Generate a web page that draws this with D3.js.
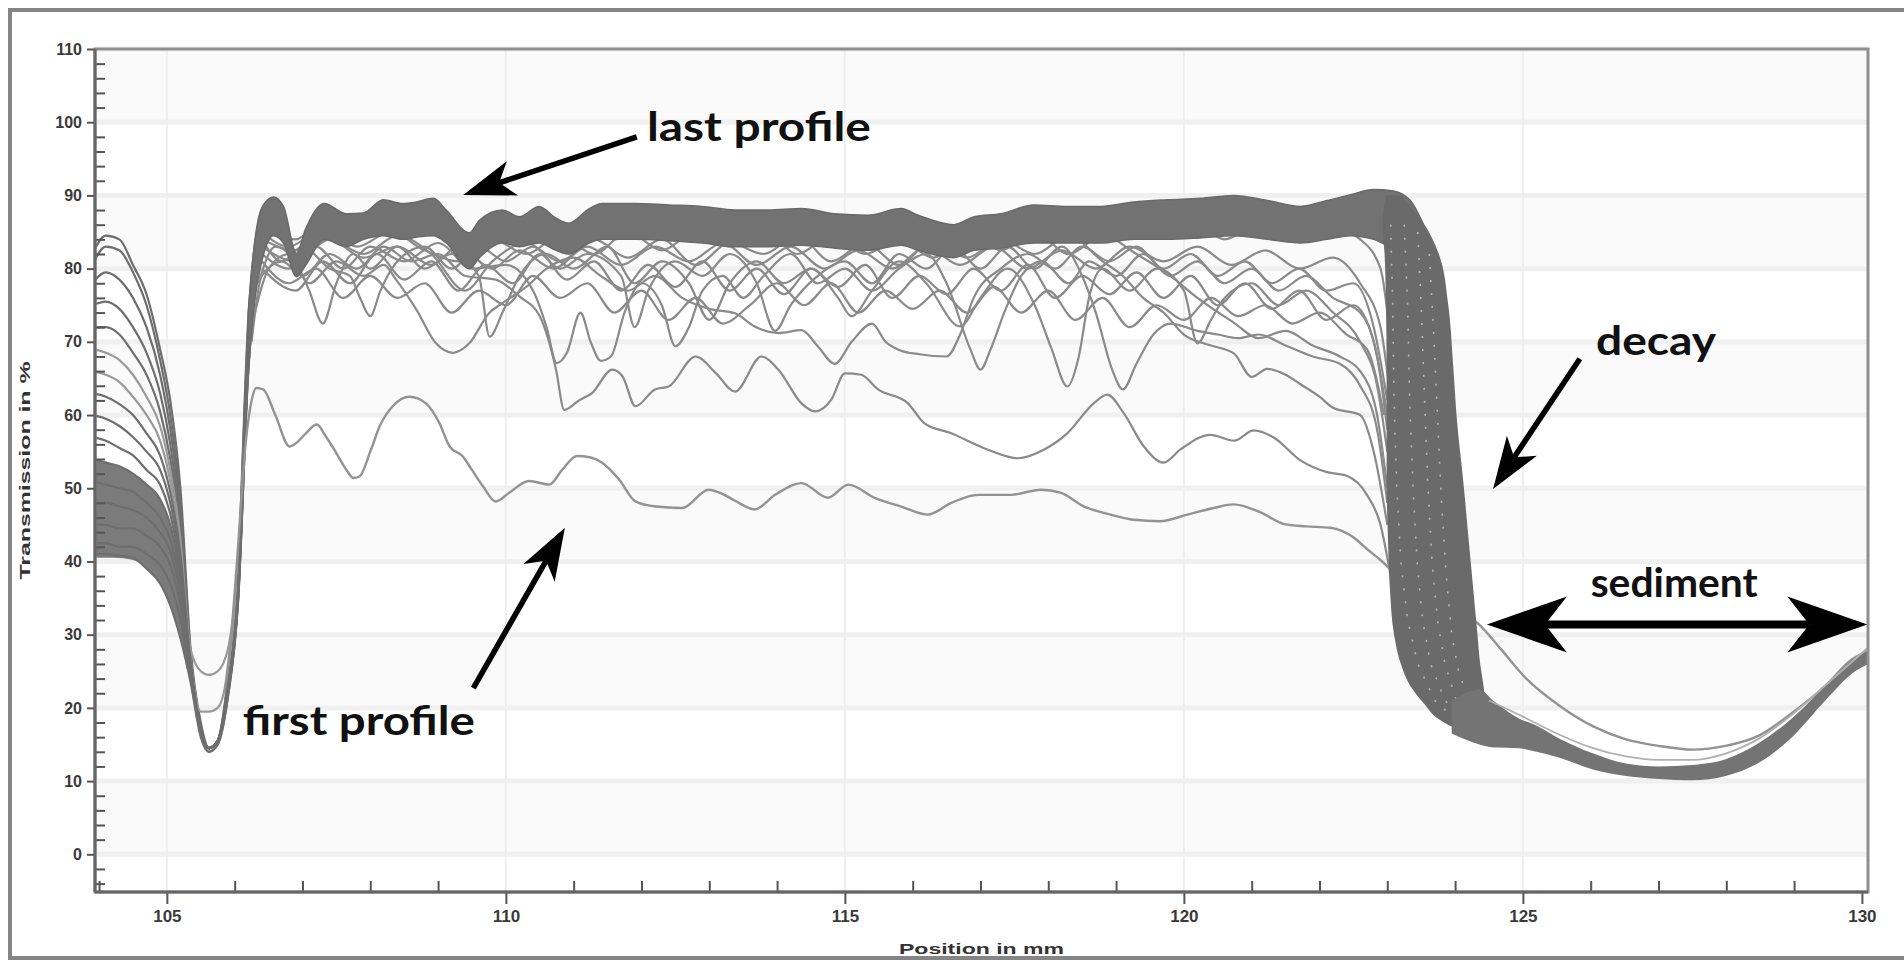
<!DOCTYPE html>
<html>
<head>
<meta charset="utf-8">
<script src="https://cdn.jsdelivr.net/npm/d3@7"></script>
<style>
  body { margin: 0; background: #fff; }
  .tick text { font-family: "Liberation Sans", Arial, sans-serif; font-weight: bold; font-size: 16px; fill: #3a3a3a; }
  .tick line { stroke: #555; stroke-width: 2; }
</style>
</head>
<body>
<div id="chart"></div>
<script>
// ---------------- data ----------------
const yTicks = [0, 10, 20, 30, 40, 50, 60, 70, 80, 90, 100, 110];
const xTicks = [105, 110, 115, 120, 125, 130];

// left part of the cell: every profile falls into the trough at ~105.6 mm and rises again
const leftX = [103.9, 104.1, 104.3, 104.5, 104.7, 104.9, 105.05, 105.2, 105.35, 105.5, 105.62, 105.75, 105.9, 106.05, 106.2, 106.35, 106.5];
const leftProfiles = [
  [82, 84.5, 84, 80.5, 76.5, 69, 62, 50, 28, 18, 14.5, 15.5, 24, 39, 73, 86, 89],
  [80.5, 83, 82.5, 79.5, 75, 67.5, 60, 48, 27.5, 17.5, 14.5, 15.5, 23.5, 38, 72, 85.5, 88.5],
  [78, 79.5, 78.5, 76, 72, 65.5, 58, 46.5, 27, 17.5, 14.5, 15.5, 23, 37.5, 71, 85, 88],
  [75, 75.5, 74.5, 72, 68.5, 63, 56, 45, 27, 17.5, 14.5, 15.5, 23, 37, 70, 84, 87],
  [72, 72, 71, 68.5, 65.5, 60.5, 54, 44, 26.5, 17, 14.5, 15.5, 22.5, 36.5, 70, 83.5, 86.5],
  [69, 68.5, 67.5, 65.5, 62.5, 58.5, 52.5, 43, 26.5, 19.5, 19.5, 20, 25, 38, 68, 82, 85],
  [66, 65.5, 64.5, 62.5, 60, 56.5, 51, 42, 28, 25, 24.5, 25, 28, 40, 66, 80, 84],
  [63, 62.5, 61.5, 60, 57.5, 54.5, 49.5, 41, 26, 17, 14.5, 15.5, 22.5, 36, 69, 83, 86],
  [60, 59.5, 58.5, 57, 55, 52.5, 48, 40, 26, 17, 14.5, 15.5, 22.5, 36, 69, 82.5, 86],
  [57, 56.5, 55.5, 54.5, 52.5, 50.5, 46.5, 39, 25.5, 17, 14.5, 15.5, 22.5, 36, 68.5, 82, 85.5],
  [54, 53.5, 53, 52, 50.5, 48.5, 45, 38, 25.5, 16.5, 14.5, 15.5, 22, 35.5, 68, 82, 85],
  [51, 50.5, 50, 49.5, 48, 46, 43, 37, 25, 16.5, 14.5, 15.5, 22, 35.5, 68, 81.5, 85],
  [48, 48, 47.5, 47, 46, 44, 41.5, 35.5, 25, 16.5, 14.5, 15.5, 22, 35, 67, 81, 84.5],
  [45, 45, 44.5, 44.5, 43.5, 42, 39.5, 34, 24.5, 16.5, 14.5, 15.5, 22, 35, 67, 81, 84.5],
  [42.5, 42.5, 42, 42, 41, 39.5, 37, 32, 24, 16.5, 14, 15, 21.5, 34.5, 66, 80.5, 84],
  [41, 41, 40.8, 40.5, 39, 37, 34, 29.5, 23.5, 16, 14, 15, 21.5, 34.5, 66, 80, 84]
];
// dense lower bundle of the left profiles
const leftBundleX = [103.9, 104.2, 104.5, 104.7, 104.9, 105.05, 105.2, 105.3];
const leftBundleTop = [54, 53.2, 52, 50.5, 48.5, 45, 38, 30];
const leftBundleBottom = [40.5, 40.5, 40.2, 39, 37, 34, 29.5, 25];

// dense band of the late profiles on the plateau
const bandX = [106.2, 106.3, 106.4, 106.57, 106.72, 106.91, 107.05, 107.32, 107.65, 107.9, 108.19, 108.48, 108.68, 108.93, 109.12, 109.46, 109.61, 109.95, 110.2, 110.49, 110.74, 110.93, 111.23, 111.42, 111.91, 112.4, 112.89, 113.38, 113.87, 114.36, 114.85, 115.34, 115.83, 116.08, 116.61, 116.91, 117.3, 117.79, 118.28, 118.77, 119.26, 119.75, 120.24, 120.73, 121.23, 121.72, 122.11, 122.46, 122.8, 123.09, 123.34, 123.53];
const bandTop = [74, 84, 88.3, 89.8, 88.5, 82.1, 85.5, 88.9, 87.5, 87.6, 89.4, 88.9, 89.1, 89.6, 88, 84.9, 86.6, 88, 87.1, 88.5, 86.9, 86.2, 88.2, 88.9, 88.9, 88.7, 88.5, 88, 88, 88.2, 87.5, 87.3, 88.2, 87.3, 86, 87.1, 87.5, 88.7, 88.5, 88.5, 89.1, 89.4, 89.6, 90, 89.3, 88.5, 89.3, 90.1, 90.8, 90.6, 89.3, 86.1];
const bandBottom = [66, 76, 81, 84.5, 83.5, 78.9, 80.5, 84, 83, 84, 84.5, 84, 84.3, 84.5, 83.5, 80, 81.5, 83.5, 83, 83.5, 82.5, 82, 83.5, 84, 84, 83.8, 83.5, 83, 83, 83.2, 82.8, 82.5, 83.2, 82.5, 81.5, 82.5, 82.8, 83.5, 83.5, 83.5, 84, 84, 84.2, 84.5, 84, 83.5, 84, 84.5, 84, 83, 84, 84];

// decay front: left and right edge of the falling bundle at each transmission level
const decayLevels = [90, 86, 82, 75, 67, 59, 51, 43, 36, 30, 26, 23, 20.5, 18.5, 17, 15.8];
const decayLeft = [122.98, 122.93, 122.96, 122.98, 122.99, 122.99, 122.99, 123.01, 123.04, 123.1, 123.2, 123.34, 123.55, 123.75, 124.05, 124.4];
const decayRight = [123.2, 123.55, 123.76, 123.9, 123.97, 124.03, 124.12, 124.2, 124.27, 124.33, 124.37, 124.42, 124.45, 124.48, 124.5, 124.52];
const decayStreaks = [
  [[123.05, 86], [123.08, 75], [123.1, 62], [123.14, 50], [123.2, 40], [123.3, 32], [123.45, 26], [123.7, 21], [124.0, 18.5]],
  [[123.25, 86], [123.3, 75], [123.33, 62], [123.38, 50], [123.44, 40], [123.52, 32], [123.64, 26], [123.85, 21], [124.15, 18.5]],
  [[123.45, 85], [123.5, 75], [123.55, 62], [123.6, 50], [123.66, 40], [123.74, 32], [123.85, 26], [124.02, 21], [124.28, 18.5]],
  [[123.62, 82], [123.68, 72], [123.74, 60], [123.8, 48], [123.87, 38], [123.95, 30], [124.05, 25], [124.2, 21]]
];

// sediment at the bottom of the cell
const sedX = [123.95, 124.36, 124.56, 124.95, 125.15, 125.54, 126.03, 126.52, 127.01, 127.5, 127.99, 128.48, 128.97, 129.46, 129.9, 130.1];
const sedTop = [21, 22.5, 21, 18.5, 17.8, 15.8, 13.8, 12.4, 12, 12.2, 13, 15.2, 18.6, 23, 26.8, 27.8];
const sedBottom = [16.5, 15, 14.6, 14.5, 14.1, 13.2, 11.6, 10.7, 10.3, 10.1, 10.7, 12.5, 16, 21, 25, 26];
const sedLine = [[124.5, 21], [125.0, 18.8], [125.5, 16.5], [126.0, 14.6], [126.5, 13.4], [127.0, 12.9], [127.5, 12.9], [128.0, 13.8], [128.5, 15.9], [129.0, 19.3], [129.5, 23.4], [130.1, 28.3]];

// single profiles that stay below the dense band
const firstProfile = [[105.85, 22], [105.95, 30], [106.05, 42], [106.15, 55], [106.25, 62], [106.32, 63.7], [106.42, 63.5], [106.6, 60], [106.81, 55.7], [106.91, 56.2], [107.05, 57.5], [107.21, 58.7], [107.35, 57], [107.5, 54.8], [107.65, 52.5], [107.75, 51.4], [107.84, 51.6], [108.0, 55], [108.14, 58.5], [108.33, 61.2], [108.58, 62.5], [108.82, 61.6], [109.02, 58.9], [109.17, 55.7], [109.36, 54.4], [109.5, 52.5], [109.66, 50.3], [109.85, 48.2], [110.05, 49.4], [110.34, 51], [110.64, 50.5], [110.83, 52.5], [111.05, 54.4], [111.25, 54.2], [111.42, 53.5], [111.67, 51.2], [111.91, 48.2], [112.21, 47.5], [112.6, 47.3], [112.99, 49.8], [113.2, 49.2], [113.38, 48.3], [113.67, 47.1], [113.97, 49.1], [114.36, 50.7], [114.75, 48.7], [115.05, 50.5], [115.44, 48.7], [115.83, 47.5], [116.22, 46.4], [116.57, 48], [116.96, 49.1], [117.45, 49.1], [117.89, 49.8], [118.18, 49.4], [118.53, 47.5], [118.92, 46.4], [119.26, 45.7], [119.65, 45.5], [120.05, 46.4], [120.44, 47.3], [120.73, 47.8], [121.13, 46.7], [121.48, 45.1], [121.8, 44.8], [122.16, 44.6], [122.5, 43.3], [122.7, 41.7], [122.9, 40.2], [123.1, 38.5], [123.4, 37], [123.7, 35.5], [124.0, 33.5], [124.34, 31.5], [124.66, 28.2], [125.05, 24], [125.54, 20.3], [126.03, 17.5], [126.52, 15.7], [127.01, 14.8], [127.5, 14.3], [127.99, 14.8], [128.48, 16.2], [128.97, 19.3], [129.46, 23], [129.85, 26.6], [130.1, 27.8]];
const profileB = [[106.25, 70], [106.4, 79], [106.7, 81], [107.0, 79], [107.4, 82], [107.8, 80], [108.2, 83], [108.6, 81], [109.0, 82], [109.4, 79], [109.85, 78.5], [110.2, 76.2], [110.5, 73.5], [110.74, 66.2], [110.86, 60.7], [111.08, 62], [111.27, 63], [111.57, 66.2], [111.72, 65.3], [111.91, 61.2], [112.2, 63.5], [112.4, 63.9], [112.8, 68], [113.1, 65.7], [113.38, 63.2], [113.77, 68], [114.02, 66.2], [114.36, 61.6], [114.56, 60.5], [114.8, 62.1], [115.0, 65.7], [115.24, 65.5], [115.49, 63.5], [115.93, 61.6], [116.17, 58.9], [116.57, 57.5], [117.1, 55.3], [117.55, 54.1], [117.94, 55.3], [118.28, 57.5], [118.67, 61.6], [118.87, 62.8], [119.11, 60.3], [119.41, 55.7], [119.7, 53.5], [119.95, 55.3], [120.39, 57.3], [120.74, 56.5], [121.03, 57.9], [121.33, 56.9], [121.72, 53.8], [122.11, 52.2], [122.4, 51.7], [122.7, 49.1], [122.9, 45], [123.05, 38]];
const profileC = [[106.3, 74], [106.5, 80], [106.8, 82], [107.1, 78], [107.5, 81], [107.9, 79], [108.2, 80.5], [108.38, 78.5], [108.68, 74.4], [108.97, 69.8], [109.22, 68.5], [109.46, 69.8], [109.75, 73.9], [109.95, 75.3], [110.3, 77.5], [110.6, 80], [111.0, 81.5], [111.4, 79], [111.8, 77], [112.2, 79], [112.6, 76], [113.0, 74.5], [113.38, 73.9], [113.67, 72.1], [114.02, 71.2], [114.36, 71.6], [114.6, 69.4], [114.85, 67], [115.1, 70], [115.4, 72.5], [115.6, 70], [115.8, 68.9], [116.1, 68.3], [116.5, 68], [116.7, 71], [116.9, 76], [117.3, 80], [117.7, 82], [118.1, 80], [118.5, 83], [118.9, 81], [119.3, 83], [119.7, 80], [120.1, 82], [120.5, 79], [120.9, 81], [121.3, 78], [121.7, 80], [122.1, 77], [122.5, 78], [122.8, 72], [123.0, 62]];
const profileD = [[106.4, 82], [106.8, 80], [107.2, 83], [107.6, 80], [108.0, 83], [108.5, 81], [109.0, 83.5], [109.5, 80], [110.0, 80.5], [110.4, 77], [110.6, 72], [110.75, 67.1], [110.9, 68.5], [111.1, 74], [111.25, 70], [111.4, 67.4], [111.55, 68], [111.75, 74], [112.0, 78], [112.3, 75], [112.5, 69.4], [112.7, 72], [112.9, 77], [113.2, 79], [113.5, 76], [113.8, 79], [114.2, 82], [114.6, 78], [115.0, 80], [115.4, 77], [115.8, 80], [116.2, 82], [116.5, 78], [116.85, 69], [117.0, 66.2], [117.15, 69], [117.35, 74], [117.6, 79], [117.9, 81], [118.3, 78], [118.6, 81], [119.0, 79], [119.4, 82], [119.8, 79], [120.2, 81], [120.6, 78], [121.0, 80], [121.4, 77], [121.8, 79], [122.2, 76], [122.6, 74], [122.85, 68], [123.0, 58]];
const profileE = [[106.35, 78], [106.6, 83], [106.95, 80], [107.1, 77], [107.3, 72.5], [107.5, 78], [107.75, 82], [108.0, 80], [108.4, 83], [108.8, 80], [109.2, 82], [109.6, 79], [109.76, 70.7], [109.95, 74], [110.2, 79], [110.6, 82], [111.0, 80], [111.5, 83], [111.9, 78], [112.3, 81], [112.7, 78], [113.0, 73], [113.3, 78], [113.7, 81], [114.1, 78], [114.5, 80], [114.9, 76], [115.1, 73.5], [115.4, 77], [115.8, 81], [116.2, 78], [116.7, 72.1], [117.0, 76], [117.4, 80], [117.8, 75], [118.05, 69], [118.28, 63.9], [118.45, 68], [118.6, 76], [118.8, 80], [119.2, 77], [119.6, 80], [120.0, 77], [120.2, 69.8], [120.4, 73], [120.6, 76], [121.0, 78], [121.4, 75], [121.8, 77], [122.2, 74], [122.6, 70], [122.85, 64], [123.0, 55]];
const profileF = [[106.4, 84], [106.7, 81], [107.0, 83], [107.4, 80], [107.7, 79], [107.85, 76], [108.0, 73.5], [108.15, 77], [108.4, 81], [108.8, 83], [109.2, 80], [109.6, 83], [110.0, 81], [110.4, 83], [110.8, 80], [111.2, 82], [111.7, 79], [111.9, 72], [112.1, 77], [112.5, 81], [112.9, 79], [113.3, 82], [113.7, 78], [113.97, 71.5], [114.2, 75], [114.6, 79], [115.0, 81], [115.4, 78], [115.8, 82], [116.2, 80], [116.6, 83], [117.0, 80], [117.4, 83], [117.8, 80], [118.2, 83], [118.5, 79], [118.7, 74], [118.95, 66], [119.1, 63.5], [119.3, 67], [119.55, 71], [119.8, 72.5], [120.2, 71.5], [120.5, 71], [120.8, 70.5], [121.1, 71], [121.5, 69.5], [121.9, 68], [122.3, 67], [122.6, 64], [122.85, 58], [123.0, 48]];
const profileG = [[106.4, 83], [106.9, 81], [107.4, 84], [107.9, 82], [108.4, 84.5], [108.9, 82], [109.4, 77], [109.8, 81], [110.3, 83.5], [110.8, 81], [111.3, 84], [111.8, 81.5], [112.3, 84], [112.8, 80.5], [113.3, 83.5], [113.8, 82], [114.3, 84.5], [114.8, 81], [115.3, 83.5], [115.8, 80.5], [116.3, 84], [116.8, 81.5], [117.3, 84], [117.8, 82], [118.3, 84.5], [118.8, 81], [119.1, 79], [119.4, 76], [119.7, 74], [120.0, 71], [120.4, 69.5], [120.74, 68.4], [121.0, 65.2], [121.23, 66.3], [121.5, 65.5], [121.72, 64.2], [122.0, 62.5], [122.2, 61], [122.6, 60], [122.8, 55], [123.0, 45]];
const profileH = [[106.4, 85], [106.8, 83], [107.3, 85.5], [107.8, 83], [108.3, 85], [108.8, 82.5], [109.3, 81], [109.8, 84], [110.3, 82], [110.8, 84.5], [111.3, 82], [111.8, 85], [112.3, 82.5], [112.8, 85], [113.3, 83], [113.8, 85.5], [114.3, 82], [114.8, 84.5], [115.3, 82], [115.8, 84], [116.3, 81.5], [116.8, 85], [117.3, 82.5], [117.8, 85], [118.3, 82], [118.8, 84.5], [119.3, 82], [119.8, 79], [120.2, 76], [120.74, 72.6], [121.1, 70.5], [121.5, 71.5], [121.9, 69.5], [122.3, 68], [122.6, 66], [122.85, 60], [123.0, 50]];
const profileI = [[106.4, 80], [106.9, 77], [107.3, 81], [107.7, 78], [108.1, 82], [108.5, 78.5], [108.9, 81], [109.3, 77], [109.7, 80.5], [110.1, 78], [110.5, 82], [110.9, 78.5], [111.3, 81], [111.7, 77], [112.1, 80.5], [112.5, 77.5], [112.9, 81], [113.3, 77], [113.7, 80], [114.1, 76.5], [114.5, 80], [114.9, 77.5], [115.3, 80.5], [115.7, 76], [116.1, 79], [116.5, 76.5], [116.9, 80], [117.3, 77], [117.7, 80.5], [118.1, 76], [118.5, 79], [118.9, 76.5], [119.3, 79.5], [119.7, 76], [120.1, 79], [120.5, 75], [120.9, 78], [121.3, 74.5], [121.7, 77], [122.1, 73], [122.5, 75], [122.8, 70], [123.0, 60]];
const profileJ = [[106.4, 86], [106.9, 84], [107.3, 86.5], [107.8, 84], [108.2, 86], [108.7, 84.5], [109.2, 86], [109.6, 83], [110.1, 86], [110.6, 84], [111.1, 86.5], [111.6, 84], [112.1, 85.5], [112.6, 84], [113.1, 86], [113.6, 84.5], [114.1, 86], [114.6, 83.5], [115.1, 85.5], [115.6, 84], [116.1, 86], [116.6, 83.5], [117.1, 85.5], [117.6, 84], [118.1, 86.5], [118.6, 84], [119.1, 86], [119.6, 84.5], [120.1, 86.5], [120.6, 84], [121.1, 86], [121.6, 84], [122.1, 86], [122.6, 84], [122.9, 80], [123.05, 70]];
const profileK = [[106.4, 81], [106.8, 78], [107.2, 80], [107.6, 76], [108.0, 79], [108.4, 76], [108.8, 78], [109.2, 74], [109.6, 77], [110.0, 75], [110.4, 79], [110.8, 76], [111.2, 78], [111.6, 74], [112.0, 77], [112.4, 73], [112.8, 76], [113.2, 72.5], [113.6, 75], [114.0, 78], [114.4, 75], [114.8, 78], [115.2, 74], [115.6, 77], [116.0, 74.5], [116.4, 77], [116.8, 74], [117.2, 77.5], [117.6, 74], [118.0, 77], [118.4, 73], [118.8, 76], [119.2, 72], [119.6, 75], [120.0, 73], [120.4, 76], [120.8, 73.5], [121.2, 75], [121.6, 72.5], [122.0, 74], [122.4, 71], [122.7, 69], [122.95, 60]];
const profileL = [[106.4, 84], [106.9, 82.5], [107.4, 84], [107.9, 81.5], [108.4, 83], [108.9, 80.5], [109.3, 83], [109.8, 80], [110.2, 82.5], [110.7, 80], [111.2, 83], [111.7, 80.5], [112.2, 83], [112.7, 81], [113.2, 83.5], [113.7, 80.5], [114.2, 83], [114.7, 80], [115.2, 82.5], [115.7, 80], [116.2, 83], [116.7, 80.5], [117.2, 83], [117.7, 80], [118.2, 82.5], [118.7, 80], [119.2, 83], [119.7, 81], [120.2, 83], [120.7, 80.5], [121.2, 82.5], [121.7, 80], [122.2, 81.5], [122.6, 78], [122.9, 72], [123.05, 62]];
const plateauProfiles = [profileJ, profileL, profileH, profileI, profileK, profileG, profileF, profileE, profileD, profileC, profileB];

// annotation texts and arrows, placed in data units
const labels = [
  {text: "last profile", x: 112.08, y: 97.4, width: 224},
  {text: "first profile", x: 106.12, y: 16.3, width: 232},
  {text: "decay", x: 126.08, y: 68.2, width: 120},
  {text: "sediment", x: 126.0, y: 35.2, width: 167}
];
const arrows = [
  {from: [111.93, 98.0], to: [109.37, 90.07], double: false},
  {from: [109.52, 22.7], to: [110.87, 44.6], double: false},
  {from: [125.84, 67.7], to: [124.56, 49.9], double: false},
  {from: [124.47, 31.4], to: [130.08, 31.4], double: true}
];

// ---------------- drawing ----------------
const width = 1904, height = 963;
const plot = {left: 95, right: 1868, top: 49, bottom: 892};

const svg = d3.select("#chart")
  .append("svg")
  .attr("width", width)
  .attr("height", height)
  .style("font-family", "'Liberation Sans', Arial, sans-serif");

const xScale = d3.scaleLinear().domain([103.94, 130.09]).range([plot.left, plot.right]);
const yScale = d3.scaleLinear().domain([-5.15, 110]).range([plot.bottom, plot.top]);

//Grey frame round the whole picture
svg.append("rect")
  .attr("x", 10).attr("y", 10)
  .attr("width", width + 20).attr("height", height - 15)
  .attr("fill", "none")
  .attr("stroke", "#858585")
  .attr("stroke-width", 4);

//Alternating bands and grid lines behind the profiles
svg.append("g")
  .selectAll("rect")
  .data(yTicks.filter(v => v % 20 === 0 && v < 110))
  .join("rect")
  .attr("x", plot.left)
  .attr("width", plot.right - plot.left)
  .attr("y", d => yScale(d + 10))
  .attr("height", d => yScale(d) - yScale(d + 10))
  .attr("fill", "#fafafa");

svg.append("g")
  .selectAll("line")
  .data(yTicks)
  .join("line")
  .attr("x1", plot.left).attr("x2", plot.right)
  .attr("y1", d => yScale(d)).attr("y2", d => yScale(d))
  .attr("stroke", "#f0f0f0")
  .attr("stroke-width", 5);

svg.append("g")
  .selectAll("line")
  .data(xTicks.filter(v => v < 130))
  .join("line")
  .attr("x1", d => xScale(d)).attr("x2", d => xScale(d))
  .attr("y1", plot.top).attr("y2", plot.bottom)
  .attr("stroke", "#eeeeee")
  .attr("stroke-width", 2);

//Everything drawn from the data is clipped to the plot area
svg.append("clipPath").attr("id", "plotClip")
  .append("rect")
  .attr("x", plot.left).attr("y", plot.top)
  .attr("width", plot.right - plot.left).attr("height", plot.bottom - plot.top);

const g = svg.append("g").attr("clip-path", "url(#plotClip)");

const line = d3.line().x(d => xScale(d[0])).y(d => yScale(d[1])).curve(d3.curveMonotoneX);

//Left part: bundle and the single falling profiles
g.append("path")
  .datum(leftBundleX)
  .attr("d", d3.area()
    .x(d => xScale(d))
    .y0((d, i) => yScale(leftBundleBottom[i]))
    .y1((d, i) => yScale(leftBundleTop[i]))
    .curve(d3.curveMonotoneX))
  .attr("fill", "#7b7b7b");

g.append("g")
  .selectAll("path")
  .data(leftProfiles)
  .join("path")
  .attr("d", p => line(p.map((v, i) => [leftX[i], v])))
  .attr("fill", "none")
  .attr("stroke", (p, i) => (i === 5 || i === 6) ? "#9a9a9a" : "#6e6e6e")
  .attr("stroke-width", 2.2);

//Plateau profiles below the dense band
g.append("g")
  .selectAll("path")
  .data(plateauProfiles)
  .join("path")
  .attr("d", line)
  .attr("fill", "none")
  .attr("stroke", "#8a8a8a")
  .attr("stroke-width", 2.2)
  .attr("stroke-linejoin", "round");

g.append("path")
  .datum(firstProfile)
  .attr("d", line)
  .attr("fill", "none")
  .attr("stroke", "#939393")
  .attr("stroke-width", 2.4)
  .attr("stroke-linejoin", "round");

//Dense band of the later profiles
g.append("path")
  .datum(bandX)
  .attr("d", d3.area()
    .x(d => xScale(d))
    .y0((d, i) => yScale(bandBottom[i]))
    .y1((d, i) => yScale(bandTop[i]))
    .curve(d3.curveMonotoneX))
  .attr("fill", "#727272")
  .attr("stroke", "#6a6a6a")
  .attr("stroke-width", 1.5)
  .attr("stroke-linejoin", "round");

//Decay front
g.append("path")
  .datum(decayLevels)
  .attr("d", d3.area()
    .y(d => yScale(d))
    .x0((d, i) => xScale(decayLeft[i]))
    .x1((d, i) => xScale(decayRight[i]))
    .curve(d3.curveMonotoneY))
  .attr("fill", "#6a6a6a");

g.append("g")
  .selectAll("path")
  .data(decayStreaks)
  .join("path")
  .attr("d", d3.line().x(d => xScale(d[0])).y(d => yScale(d[1])))
  .attr("fill", "none")
  .attr("stroke", "#b8b8b8")
  .attr("stroke-width", 1.6)
  .attr("stroke-dasharray", "2,11");

//Sediment
g.append("path")
  .datum(sedX)
  .attr("d", d3.area()
    .x(d => xScale(d))
    .y0((d, i) => yScale(sedBottom[i]))
    .y1((d, i) => yScale(sedTop[i]))
    .curve(d3.curveMonotoneX))
  .attr("fill", "#747474");

g.append("path")
  .datum(sedLine)
  .attr("d", line)
  .attr("fill", "none")
  .attr("stroke", "#b0b0b0")
  .attr("stroke-width", 1.8);

//Plot border and axes
svg.append("rect")
  .attr("x", plot.left).attr("y", plot.top)
  .attr("width", plot.right - plot.left).attr("height", plot.bottom - plot.top)
  .attr("fill", "none")
  .attr("stroke", "#8f8f8f")
  .attr("stroke-width", 3);

const yAxis = svg.append("g")
  .attr("transform", `translate(${plot.left},0)`)
  .call(d3.axisLeft(yScale).tickValues(yTicks).tickSize(8).tickPadding(5));
yAxis.select(".domain").remove();

svg.append("g")
  .attr("transform", `translate(${plot.left},0)`)
  .call(d3.axisRight(yScale)
    .tickValues(d3.range(-4, 110, 2).filter(v => v % 10 !== 0))
    .tickSize(10).tickFormat(""))
  .select(".domain").remove();

const xAxis = svg.append("g")
  .attr("transform", `translate(0,${plot.bottom})`)
  .call(d3.axisBottom(xScale).tickValues(xTicks).tickSize(12).tickPadding(6));
xAxis.select(".domain").remove();
xAxis.selectAll("text").style("font-size", "17px");

svg.append("g")
  .attr("transform", `translate(0,${plot.bottom})`)
  .call(d3.axisTop(xScale)
    .tickValues(d3.range(104, 131).filter(v => v % 5 !== 0))
    .tickSize(11).tickFormat(""))
  .select(".domain").remove();

svg.append("line")
  .attr("x1", plot.left).attr("x2", plot.left)
  .attr("y1", plot.top).attr("y2", plot.bottom)
  .attr("stroke", "#666").attr("stroke-width", 3);
svg.append("line")
  .attr("x1", plot.left).attr("x2", plot.right)
  .attr("y1", plot.bottom).attr("y2", plot.bottom)
  .attr("stroke", "#666").attr("stroke-width", 3);

//Axis titles
svg.append("text")
  .attr("x", (plot.left + plot.right) / 2)
  .attr("y", 954)
  .attr("text-anchor", "middle")
  .attr("font-weight", "bold")
  .attr("font-size", 15)
  .attr("fill", "#333")
  .attr("textLength", 165)
  .attr("lengthAdjust", "spacingAndGlyphs")
  .text("Position in mm");

svg.append("text")
  .attr("transform", `translate(30,${(plot.top + plot.bottom) / 2}) rotate(-90)`)
  .attr("text-anchor", "middle")
  .attr("font-weight", "bold")
  .attr("font-size", 15)
  .attr("fill", "#333")
  .attr("textLength", 218)
  .attr("lengthAdjust", "spacingAndGlyphs")
  .text("Transmission in %");

//Annotation arrows
function arrowShape(x1, y1, x2, y2, headLen, headW, notch) {
  const len = Math.hypot(x2 - x1, y2 - y1);
  const ux = (x2 - x1) / len, uy = (y2 - y1) / len;
  const px = -uy, py = ux;
  const bx = x2 - ux * headLen, by = y2 - uy * headLen;
  const nx = x2 - ux * (headLen - notch), ny = y2 - uy * (headLen - notch);
  return {
    head: [[x2, y2], [bx + px * headW / 2, by + py * headW / 2], [nx, ny], [bx - px * headW / 2, by - py * headW / 2]],
    end: [nx, ny]
  };
}

const annot = svg.append("g");
arrows.forEach(a => {
  const x1 = xScale(a.from[0]), y1 = yScale(a.from[1]);
  const x2 = xScale(a.to[0]), y2 = yScale(a.to[1]);
  const shaft = a.double ? 8 : 5.5;
  const headLen = a.double ? 80 : 52;
  const headW = a.double ? 56 : 36;
  const notch = a.double ? 22 : 14;
  const h2 = arrowShape(x1, y1, x2, y2, headLen, headW, notch);
  let start = [x1, y1];
  if (a.double) {
    const h1 = arrowShape(x2, y2, x1, y1, headLen, headW, notch);
    start = h1.end;
    annot.append("polygon").attr("points", h1.head.join(" ")).attr("fill", "#000");
  }
  annot.append("line")
    .attr("x1", start[0]).attr("y1", start[1])
    .attr("x2", h2.end[0]).attr("y2", h2.end[1])
    .attr("stroke", "#000")
    .attr("stroke-width", shaft);
  annot.append("polygon").attr("points", h2.head.join(" ")).attr("fill", "#000");
});

annot.selectAll("text.label")
  .data(labels)
  .join("text")
  .attr("class", "label")
  .attr("x", d => xScale(d.x))
  .attr("y", d => yScale(d.y))
  .attr("font-family", "Lato, 'Open Sans', sans-serif")
  .attr("font-weight", "bold")
  .attr("font-size", 40)
  .attr("fill", "#111")
  .attr("textLength", d => d.width)
  .attr("lengthAdjust", "spacingAndGlyphs")
  .text(d => d.text);
</script>
</body>
</html>
